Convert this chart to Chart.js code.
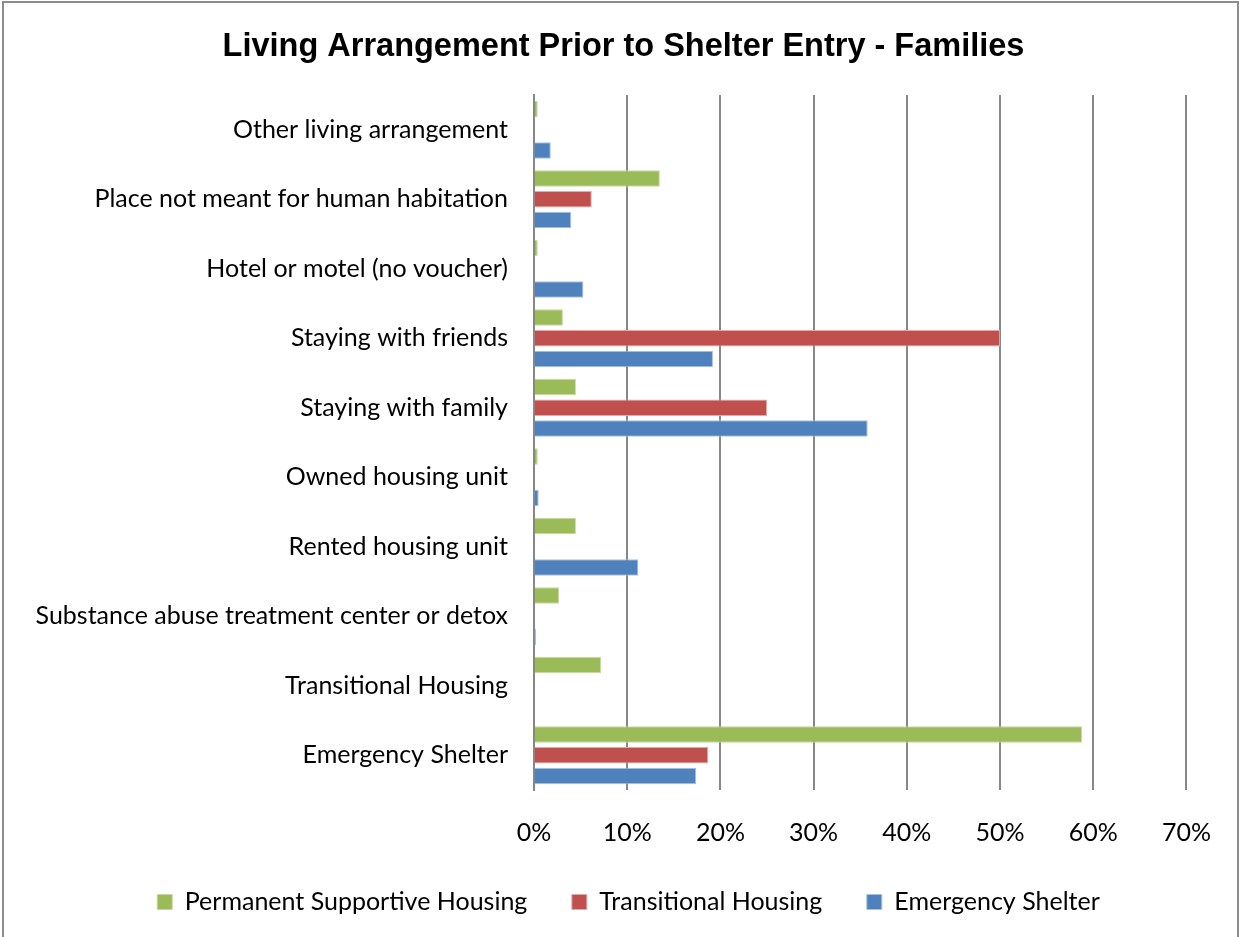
<!DOCTYPE html>
<html>
<head>
<meta charset="utf-8">
<script src="https://cdn.jsdelivr.net/npm/chart.js@4"></script>
<style>
  html, body { margin: 0; padding: 0; background: #ffffff; overflow: hidden; }
  #wrap { position: absolute; left: 0; top: 0; width: 1241px; height: 937px; }
</style>
</head>
<body>
<div id="wrap"><canvas id="chart" width="1241" height="937"></canvas></div>
<script>
// Prior living situation, share of families by program type
const categories = [
    'Other living arrangement',
    'Place not meant for human habitation',
    'Hotel or motel (no voucher)',
    'Staying with friends',
    'Staying with family',
    'Owned housing unit',
    'Rented housing unit',
    'Substance abuse treatment center or detox',
    'Transitional Housing',
    'Emergency Shelter'
];
const permanentSupportive = [0.4, 13.5, 0.4, 3.1, 4.5, 0.4, 4.5, 2.7, 7.2, 58.8];
const transitional = [0, 6.2, 0, 50.0, 25.0, 0, 0, 0, 0, 18.7];
const emergencyShelter = [1.8, 4.0, 5.3, 19.2, 35.8, 0.5, 11.2, 0.2, 0, 17.4];
const xTicks = [0, 10, 20, 30, 40, 50, 60, 70];

const labelFont = { family: 'Lato, "Open Sans", sans-serif', size: 25, lineHeight: 1 };
const gridColor = '#878787';

// outer frame of the chart box
const framePlugin = {
    id: 'frame',
    afterDraw(chart) {
        const ctx = chart.ctx;
        ctx.save();
        ctx.strokeStyle = '#8c8c8c';
        ctx.lineWidth = 2;
        ctx.beginPath();
        ctx.moveTo(3, 940);
        ctx.lineTo(3, 2);
        ctx.lineTo(1238, 2);
        ctx.lineTo(1238, 940);
        ctx.stroke();
        ctx.restore();
    }
};

// title and legend sit centred on the whole box, not on the padded layout area
const centreBlocks = {
    id: 'centreBlocks',
    afterLayout(chart) {
        if (chart.titleBlock) { chart.titleBlock.left += 15; chart.titleBlock.right += 15; }
        if (chart.legend) { chart.legend.left += 20; chart.legend.right += 20; }
    }
};

new Chart(document.getElementById('chart'), {
    type: 'bar',
    data: {
        labels: categories,
        datasets: [
            { label: 'Permanent Supportive Housing', data: permanentSupportive, backgroundColor: '#9BBB59', borderColor: '#c6d9a0', borderWidth: 1 },
            { label: 'Transitional Housing', data: transitional, backgroundColor: '#C0504D', borderColor: '#e3a9a7', borderWidth: 1 },
            { label: 'Emergency Shelter', data: emergencyShelter, backgroundColor: '#4F81BD', borderColor: '#a9c1de', borderWidth: 1 }
        ]
    },
    options: {
        indexAxis: 'y',
        responsive: false,
        devicePixelRatio: 1,
        animation: false,
        categoryPercentage: 0.895,
        barPercentage: 0.8,
        layout: { padding: { left: 30, right: 54, top: 0, bottom: 12.5 } },
        scales: {
            x: {
                min: 0,
                max: 70,
                afterBuildTicks: scale => { scale.ticks = xTicks.map(v => ({ value: v })); },
                afterFit: scale => { scale.height = 55; },
                grid: { color: gridColor, lineWidth: 2, drawTicks: false },
                border: { display: false },
                ticks: {
                    padding: 30,
                    color: '#000000',
                    font: labelFont,
                    callback: v => v + '%'
                }
            },
            y: {
                afterFit: scale => { scale.width = 504; },
                grid: { display: false, drawTicks: false },
                border: { display: true, color: gridColor, width: 2 },
                ticks: { padding: 26, color: '#000000', font: labelFont }
            }
        },
        plugins: {
            title: {
                display: true,
                text: 'Living Arrangement Prior to Shelter Entry - Families',
                color: '#000000',
                font: { family: '"Liberation Sans", Arial, sans-serif', size: 32.5, weight: 'bold' },
                padding: { top: 27.5, bottom: 28.5 }
            },
            legend: {
                position: 'bottom',
                labels: {
                    color: '#000000',
                    font: labelFont,
                    boxWidth: 15,
                    boxHeight: 15,
                    padding: 44.5
                }
            },
            tooltip: { enabled: false }
        }
    },
    plugins: [framePlugin, centreBlocks]
});
</script>
</body>
</html>
